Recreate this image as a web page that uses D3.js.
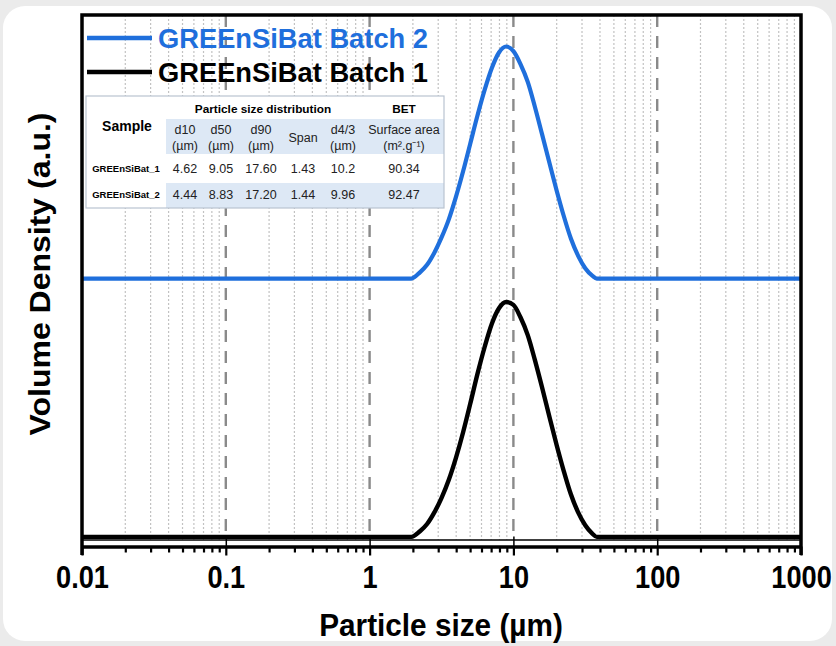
<!DOCTYPE html>
<html>
<head>
<meta charset="utf-8">
<title>GREEnSiBat particle size</title>
<style>
	body { margin: 0; background: #ebebeb; }
	svg { display: block; font-family: "Liberation Sans", Arial, sans-serif; }
</style>
</head>
<body>
<script src="https://d3js.org/d3.v7.min.js"></script>
<script>
	// particle size classes (µm) and volume density (%)
	let sizes  = [0.01, 1.95, 2.24, 2.51, 2.82, 3.16, 3.55, 3.98, 4.47, 5.01,
	              5.62, 6.31, 7.08, 7.94, 8.91, 10.0, 11.2, 12.6, 14.1, 15.8,
	              17.8, 20.0, 22.4, 25.1, 28.2, 31.6, 35.5, 38.0, 1000];
	let batch1 = [0, 0, 0.22, 0.5, 0.95, 1.5, 2.2, 3.05, 4.05, 5.15,
	              6.3, 7.35, 8.25, 8.85, 9.09, 8.98, 8.5, 7.8, 6.85, 5.8,
	              4.65, 3.55, 2.55, 1.65, 0.95, 0.45, 0.12, 0, 0];
	let batch2 = [0, 0, 0.24, 0.53, 1.0, 1.58, 2.28, 3.15, 4.15, 5.22,
	              6.3, 7.3, 8.15, 8.75, 8.98, 8.8, 8.3, 7.6, 6.65, 5.6,
	              4.48, 3.4, 2.42, 1.55, 0.88, 0.4, 0.1, 0, 0];
	let batch2Offset = 10; // batch 2 is stacked above batch 1

	let seriesNames = ['GREEnSiBat Batch 2', 'GREEnSiBat Batch 1'];
	let majorTicks = [0.01, 0.1, 1, 10, 100, 1000];
	let majorLabels = ['0.01', '0.1', '1', '10', '100', '1000'];

	// inset table
	let tableGroups = ['Particle size distribution', 'BET'];
	let tableCols = ['d10', 'd50', 'd90', 'Span', 'd4/3', 'Surface area'];
	let tableUnits = ['(µm)', '(µm)', '(µm)', '', '(µm)', '(m².g⁻¹)'];
	let tableSamples = ['GREEnSiBat_1', 'GREEnSiBat_2'];
	let tableValues = [
		['4.62', '9.05', '17.60', '1.43', '10.2', '90.34'],
		['4.44', '8.83', '17.20', '1.44', '9.96', '92.47']
	];

	let blue = '#1f6fdc';
	let plotLeft = 82, plotRight = 801, plotTop = 15, plotBottom = 540;

	function translateHelper(x, y) {
		return 'translate(' + x + ', ' + y + ')';
	}

	let svg = d3.select('body').append('svg').attr('width', 836).attr('height', 646);

	// white card
	svg.append('rect').attr('x', 3).attr('y', 6).attr('width', 829).attr('height', 635)
		.attr('rx', 22).attr('fill', '#fff');

	let x = d3.scaleLog().domain([0.01, 1000]).range([plotLeft, plotRight]);
	let y = d3.scaleLinear().domain([-0.12, 20.2]).range([plotBottom, plotTop]);

	// minor grid (dotted) and decade lines (dashed)
	let minorTicks = [];
	for (let k = -2; k <= 2; k++) {
		for (let m = 2; m <= 9; m++) minorTicks.push(m * Math.pow(10, k));
	}
	svg.append('g').selectAll('line').data(minorTicks).enter().append('line')
		.attr('x1', d => x(d)).attr('x2', d => x(d)).attr('y1', plotTop).attr('y2', plotBottom)
		.attr('stroke', '#c2c2c2').attr('stroke-width', 1.2).attr('stroke-dasharray', '2,2');
	svg.append('g').selectAll('line').data(majorTicks.slice(1, 5)).enter().append('line')
		.attr('x1', d => x(d)).attr('x2', d => x(d)).attr('y1', plotTop).attr('y2', plotBottom)
		.attr('stroke', '#8a8a8a').attr('stroke-width', 2.4).attr('stroke-dasharray', '12,9');

	// curves
	let line = d3.line().x(d => x(d[0])).y(d => y(d[1])).curve(d3.curveMonotoneX);
	svg.append('path').datum(sizes.map((s, i) => [s, batch2[i] + batch2Offset]))
		.attr('d', line).attr('fill', 'none').attr('stroke', blue).attr('stroke-width', 4.2);
	svg.append('path').datum(sizes.map((s, i) => [s, batch1[i]]))
		.attr('d', line).attr('fill', 'none').attr('stroke', '#000').attr('stroke-width', 4.4);

	// frame
	svg.append('line').attr('x1', plotLeft).attr('x2', plotRight).attr('y1', plotBottom).attr('y2', plotBottom)
		.attr('stroke', '#000').attr('stroke-width', 1.5);
	svg.append('path')
		.attr('d', 'M' + plotLeft + ',555V' + plotTop + 'H' + plotRight + 'V555')
		.attr('fill', 'none').attr('stroke', '#000').attr('stroke-width', 3.5);

	// x axis
	let axisY = 546.5;
	let minorAxis = svg.append('g').attr('transform', translateHelper(0, axisY))
		.call(d3.axisBottom(x).tickValues(minorTicks).tickSize(6).tickFormat(''));
	minorAxis.selectAll('line').attr('stroke-width', 2.2);
	minorAxis.select('.domain').remove();

	let innerAxis = svg.append('g').attr('transform', translateHelper(0, axisY))
		.call(d3.axisTop(x).tickValues(majorTicks.slice(1, 5)).tickSize(10).tickFormat(''));
	innerAxis.selectAll('line').attr('stroke-width', 1.5);
	innerAxis.select('.domain').remove();

	let xAxis = svg.append('g').attr('transform', translateHelper(0, axisY))
		.call(d3.axisBottom(x).tickValues(majorTicks).tickSize(9).tickSizeOuter(0).tickPadding(10)
			.tickFormat((d, i) => majorLabels[i]));
	xAxis.select('.domain').attr('stroke-width', 3.5);
	xAxis.selectAll('line').attr('stroke-width', 2.2);
	xAxis.selectAll('text').attr('font-size', 32).attr('font-weight', 'bold').attr('fill', '#000')
		.attr('font-family', '"Liberation Sans", Arial, sans-serif')
		.attr('transform', 'scale(0.85,1)');

	// axis titles
	svg.append('text').attr('transform', translateHelper(441, 636) + ' scale(0.93,1)')
		.attr('text-anchor', 'middle').attr('font-size', 32).attr('font-weight', 'bold')
		.text('Particle size (µm)');
	svg.append('text').attr('transform', translateHelper(50, 274) + ' rotate(-90) scale(1,0.9)')
		.attr('text-anchor', 'middle').attr('font-size', 32).attr('font-weight', 'bold')
		.text('Volume Density (a.u.)');

	// legend
	let legendColors = [blue, '#000'];
	let legend = svg.append('g').selectAll('g').data(seriesNames).enter().append('g')
		.attr('transform', (d, i) => translateHelper(0, 38 + i * 34));
	legend.append('line').attr('x1', 87).attr('x2', 152)
		.attr('stroke', (d, i) => legendColors[i]).attr('stroke-width', 4.5);
	legend.append('text').attr('x', 158).attr('y', 9.5)
		.attr('font-size', 27.3).attr('font-weight', 'bold')
		.attr('fill', (d, i) => legendColors[i]).text(d => d);

	// inset table
	let colX = [185, 221, 261, 303, 343, 404];
	let tbl = svg.append('g');
	tbl.append('rect').attr('x', 86).attr('y', 96).attr('width', 358).attr('height', 112)
		.attr('fill', '#fff');
	tbl.append('rect').attr('x', 166).attr('y', 119).attr('width', 278).attr('height', 35)
		.attr('fill', '#dde8f5');
	tbl.append('rect').attr('x', 166).attr('y', 183).attr('width', 278).attr('height', 25)
		.attr('fill', '#dde8f5');
	tbl.append('rect').attr('x', 86).attr('y', 96).attr('width', 358).attr('height', 112)
		.attr('fill', 'none').attr('stroke', '#b9c3d0').attr('stroke-width', 1.2);

	tbl.selectAll('.grp').data(tableGroups).enter().append('text')
		.attr('x', (d, i) => i == 0 ? 263 : colX[5]).attr('y', 113)
		.attr('text-anchor', 'middle').attr('font-size', 11.8).attr('font-weight', 'bold')
		.text(d => d);
	tbl.append('text').attr('x', 127).attr('y', 131).attr('text-anchor', 'middle')
		.attr('font-size', 14).attr('font-weight', 'bold').text('Sample');

	tbl.selectAll('.col').data(tableCols).enter().append('text')
		.attr('x', (d, i) => colX[i]).attr('y', (d, i) => tableUnits[i] ? 134 : 142)
		.attr('text-anchor', 'middle').attr('font-size', 12.5).attr('fill', '#222')
		.text(d => d);
	tbl.selectAll('.unit').data(tableUnits).enter().append('text')
		.attr('x', (d, i) => colX[i]).attr('y', 150)
		.attr('text-anchor', 'middle').attr('font-size', 12.5).attr('fill', '#222')
		.text(d => d);

	tableSamples.forEach(function(s, r) {
		let rowY = 173 + r * 26;
		tbl.append('text').attr('x', 126).attr('y', rowY - 1).attr('text-anchor', 'middle')
			.attr('font-size', 9.5).attr('font-weight', 'bold').text(s);
		tbl.selectAll('.v' + r).data(tableValues[r]).enter().append('text')
			.attr('x', (d, i) => colX[i]).attr('y', rowY)
			.attr('text-anchor', 'middle').attr('font-size', 12.5).attr('fill', '#222')
			.text(d => d);
	});
</script>
</body>
</html>
